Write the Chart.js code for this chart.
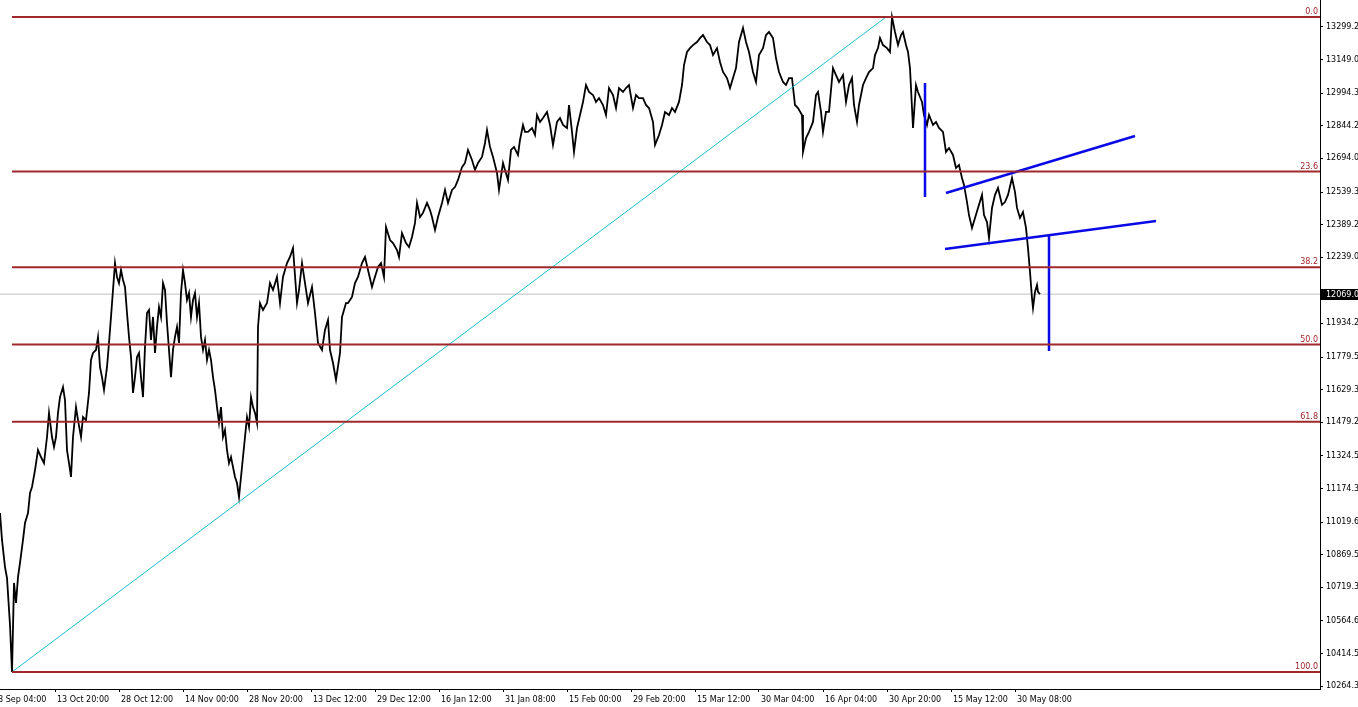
<!DOCTYPE html>
<html>
<head>
<meta charset="utf-8">
<script src="https://cdn.jsdelivr.net/npm/chart.js@4.4.1/dist/chart.umd.min.js"></script>
<style>
  html, body { margin: 0; padding: 0; background: #fff; }
  #wrap { width: 1358px; height: 707px; }
</style>
</head>
<body>
<div id="wrap"><canvas id="chart"></canvas></div>
<script>
// H4 closes (bar index -> price)
const barIdx = [
  0, 2, 5, 7, 10, 12, 14, 16, 18, 20,
  23, 25, 28, 30, 32, 35, 38, 41, 44, 47,
  49, 52, 54, 56, 58, 60, 63, 65, 67, 69,
  71, 73, 76, 78, 81, 83, 86, 89, 91, 93,
  96, 98, 100, 102, 104, 107, 109, 111, 113, 115,
  117, 119, 121, 123, 125, 127, 129, 131, 133, 135,
  137, 139, 141, 143, 145, 147, 149, 151, 153, 155,
  157, 159, 161, 163, 165, 167, 169, 171, 173, 175,
  177, 179, 181, 183, 185, 187, 189, 191, 193, 195,
  197, 199, 201, 203, 205, 207, 209, 211, 213, 215,
  217, 219, 221, 223, 225, 227, 229, 231, 233, 235,
  237, 239, 241, 243, 245, 247, 249, 251, 253, 255,
  257, 258, 260, 263, 267, 270, 273, 277, 280, 283,
  287, 290, 293, 297, 299, 302, 305, 308, 312, 315,
  318, 322, 325, 328, 330, 333, 336, 340, 342, 346,
  348, 352, 355, 358, 362, 365, 368, 372, 374, 378,
  381, 384, 386, 390, 393, 397, 399, 402, 406, 409,
  412, 415, 417, 420, 423, 427, 430, 432, 435, 438,
  442, 445, 448, 452, 455, 458, 462, 465, 468, 472,
  475, 478, 482, 485, 487, 490, 493, 497, 499, 503,
  505, 508, 511, 514, 518, 520, 523, 525, 528, 532,
  535, 537, 540, 543, 547, 550, 553, 557, 560, 563,
  567, 569, 572, 574, 577, 580, 583, 586, 589, 593,
  596, 599, 603, 606, 609, 613, 616, 619, 623, 626,
  629, 633, 636, 639, 643, 646, 649, 653, 655, 659,
  662, 665, 669, 672, 675, 679, 682, 684, 687, 690,
  693, 697, 700, 703, 707, 710, 713, 717, 720, 723,
  727, 730, 733, 736, 739, 743, 746, 749, 753, 756,
  759, 763, 766, 769, 773, 776, 779, 783, 786, 789,
  792, 795, 798, 802, 803, 806, 809, 813, 816, 818,
  821, 823, 826, 829, 833, 836, 839, 843, 846, 849,
  852, 854, 857, 859, 863, 866, 869, 873, 875, 878,
  880, 883, 887, 890, 892, 895, 898, 901, 903, 906,
  908, 910, 911, 913, 916, 918, 922, 924, 927, 929,
  933, 936, 939, 943, 946, 949, 953, 956, 959, 962,
  964, 967, 969, 972, 975, 978, 982, 984, 987, 989,
  992, 995, 998, 1002, 1005, 1008, 1012, 1015, 1017, 1020,
  1023, 1026, 1028, 1030, 1032, 1033, 1035, 1037, 1038, 1040
];
const closes = [
  11061, 10937, 10812, 10762, 10545, 10329, 10739, 10647, 10766, 10831,
  10937, 11015, 11061, 11153, 11181, 11259, 11351, 11319, 11291, 11411,
  11522, 11411, 11365, 11411, 11522, 11595, 11641, 11581, 11351, 11291,
  11227, 11411, 11549, 11489, 11411, 11503, 11489, 11614, 11766, 11798,
  11812, 11872, 11733, 11687, 11628, 11733, 11844, 11964, 12088, 12212,
  12148, 12120, 12180, 12134, 12102, 11982, 11872, 11780, 11614, 11687,
  11780, 11798, 11687, 11595, 11826, 11982, 11996, 11858, 11964, 11798,
  11918, 12010, 11964, 12120, 12088, 11936, 11812, 11687, 11812, 11872,
  11918, 11844, 12074, 12180, 12120, 12042, 12074, 11964, 12042, 12074,
  11964, 12028, 11872, 11812, 11858, 11766, 11812, 11766, 11687, 11628,
  11549, 11476, 11549, 11411, 11443, 11351, 11291, 11319, 11273, 11227,
  11199, 11135, 11227, 11319, 11411, 11503, 11457, 11595, 11549, 11522,
  11476, 11918, 12028, 11996, 12028, 12120, 12088, 12148, 12028, 12148,
  12212, 12240, 12281, 12028, 12088, 12212, 12120, 12028, 12102, 11982,
  11844, 11812, 11904, 11950, 11812, 11752, 11674, 11798, 11964, 12028,
  12028, 12056, 12120, 12148, 12212, 12240, 12180, 12102, 12134, 12194,
  12212, 12148, 12378, 12318, 12304, 12272, 12240, 12350, 12304, 12286,
  12332, 12397, 12489, 12424, 12443, 12489, 12456, 12424, 12364, 12424,
  12489, 12549, 12489, 12549, 12562, 12595, 12654, 12673, 12733, 12687,
  12641, 12673, 12701, 12765, 12825, 12747, 12701, 12627, 12549, 12673,
  12641, 12595, 12733, 12747, 12710, 12779, 12848, 12816, 12816, 12834,
  12802, 12894, 12862, 12880, 12908, 12848, 12756, 12862, 12880, 12848,
  12834, 12940, 12816, 12724, 12834, 12894, 12954, 13032, 13000, 12986,
  12954, 12972, 12940, 12894, 13018, 12986, 12926, 13018, 13000, 13018,
  13032, 12926, 12986, 12972, 12972, 12940, 12926, 12862, 12756, 12802,
  12848, 12908, 12894, 12926, 12908, 12954, 13032, 13124, 13184, 13202,
  13216, 13230, 13248, 13262, 13230, 13216, 13170, 13202, 13138, 13092,
  13064, 13018, 13064, 13110, 13230, 13295, 13230, 13184, 13092, 13046,
  13170, 13202, 13262, 13276, 13248, 13156, 13092, 13046, 13032, 13064,
  13064, 12940, 12926, 12894, 12724, 12788, 12816, 12862, 12986, 13000,
  12908, 12816, 12908, 12908, 13110, 13078, 13046, 13078, 12954, 13032,
  13064, 12940, 12862, 12940, 13032, 13064, 13092, 13110, 13170, 13202,
  13248, 13216, 13202, 13184, 13345, 13276, 13216, 13262, 13276, 13216,
  13184, 13110, 13018, 12834, 13032, 13000, 12954, 12894, 12848, 12894,
  12848, 12862, 12834, 12816, 12724, 12742, 12710, 12650, 12664, 12604,
  12572, 12493, 12433, 12374, 12420, 12466, 12526, 12433, 12401, 12328,
  12466, 12526, 12558, 12480, 12493, 12526, 12604, 12539, 12466, 12420,
  12447, 12374, 12281, 12171, 12051, 12005, 12079, 12111, 12079, 12069
];

// fibonacci retracement anchors (low bar -> high bar)
const fibLow = { x: 12, y: 10329 };
const fibHigh = { x: 886, y: 13345 };
const fibRatios = [0, 23.6, 38.2, 50.0, 61.8, 100];
const fibLabels = ['0.0', '23.6', '38.2', '50.0', '61.8', '100.0'];
const lastPrice = 12069.0;

// hand-drawn flag / target lines
const flagUpper = [{ x: 946, y: 12535 }, { x: 1135, y: 12797 }];
const flagLower = [{ x: 945, y: 12277 }, { x: 1156, y: 12406 }];
const poleLine = [{ x: 925, y: 13041 }, { x: 925, y: 12516 }];
const targetLine = [{ x: 1049, y: 12341 }, { x: 1049, y: 11807 }];

// axis ticks
const yTicks = [13299.2, 13149.0, 12994.3, 12844.2, 12694.0, 12539.3, 12389.2, 12239.0,
  11934.2, 11779.5, 11629.3, 11479.2, 11324.5, 11174.3, 11019.6, 10869.5,
  10719.3, 10564.6, 10414.5, 10264.3];
const xTicks = [-9, 55, 119, 183, 247, 311, 375, 439, 503, 567, 631, 695, 759, 823, 887, 951, 1015];
const xLabels = ['28 Sep 04:00', '13 Oct 20:00', '28 Oct 12:00', '14 Nov 00:00', '28 Nov 20:00',
  '13 Dec 12:00', '29 Dec 12:00', '16 Jan 12:00', '31 Jan 08:00', '15 Feb 00:00',
  '29 Feb 20:00', '15 Mar 12:00', '30 Mar 04:00', '16 Apr 04:00', '30 Apr 20:00',
  '15 May 12:00', '30 May 08:00'];

const fibColor = '#a0282d';
const font = { family: '"DejaVu Sans", sans-serif', size: 8 };

const fibLevels = fibRatios.map(r => fibHigh.y - r / 100 * (fibHigh.y - fibLow.y));

const datasets = [];
fibLevels.forEach(lv => {
  datasets.push({
    data: [{ x: fibLow.x, y: lv }, { x: 1320, y: lv }],
    borderColor: fibColor, borderWidth: 2, order: 1
  });
});
datasets.push({
  data: [{ x: fibLow.x, y: fibLow.y }, { x: fibHigh.x, y: fibHigh.y }],
  borderColor: '#1cbccc', borderWidth: 1, order: 1
});
[flagUpper, flagLower, poleLine, targetLine].forEach(seg => {
  datasets.push({ data: seg, borderColor: '#0a0ae6', borderWidth: 2.5, order: 1 });
});
datasets.push({
  data: barIdx.map((x, i) => ({ x: x, y: closes[i] })),
  borderColor: '#000', borderWidth: 1.8, order: 5
});
datasets.push({
  data: [{ x: 0, y: lastPrice }, { x: 1320, y: lastPrice }],
  borderColor: '#c0c0c0', borderWidth: 1, order: 9
});

const overlay = {
  id: 'overlay',
  afterDraw(chart) {
    const { ctx, chartArea } = chart;
    const y = chart.scales.y;
    ctx.save();
    ctx.font = '8px "DejaVu Sans"';
    ctx.fillStyle = fibColor;
    ctx.textAlign = 'right';
    ctx.textBaseline = 'alphabetic';
    fibLevels.forEach((lv, i) => {
      ctx.fillText(fibLabels[i], chartArea.right - 2, y.getPixelForValue(lv) - 3);
    });
    const py = Math.round(y.getPixelForValue(lastPrice));
    ctx.fillStyle = '#000';
    ctx.fillRect(chartArea.right + 1, py - 5, 38, 11);
    ctx.fillStyle = '#fff';
    ctx.textAlign = 'left';
    ctx.textBaseline = 'middle';
    ctx.fillText(lastPrice.toFixed(1), chartArea.right + 6, py + 0.5);
    ctx.restore();
  }
};

new Chart(document.getElementById('chart'), {
  type: 'line',
  data: { datasets: datasets },
  options: {
    responsive: true,
    maintainAspectRatio: false,
    animation: false,
    devicePixelRatio: 1,
    layout: { padding: 0 },
    elements: { point: { radius: 0 }, line: { tension: 0 } },
    plugins: { legend: { display: false }, tooltip: { enabled: false } },
    scales: {
      x: {
        type: 'linear', min: 0, max: 1320,
        grid: { drawOnChartArea: false, tickLength: 3, color: '#000' },
        border: { display: true, color: '#000' },
        ticks: {
          autoSkip: false, maxRotation: 0, minRotation: 0, align: 'start',
          labelOffset: 2, padding: 3, color: '#000', font: font,
          callback: (v, i) => xLabels[i]
        },
        afterBuildTicks: s => { s.ticks = xTicks.map(v => ({ value: v })); },
        afterFit: s => { s.height = 18; s.paddingLeft = 0; s.paddingRight = 0; }
      },
      y: {
        type: 'linear', position: 'right', min: 10250.7, max: 13423.5,
        grid: { drawOnChartArea: false, tickLength: 3, color: '#000' },
        border: { display: true, color: '#000' },
        ticks: {
          padding: 3, color: '#000', font: font,
          callback: v => v.toFixed(1)
        },
        afterBuildTicks: s => { s.ticks = yTicks.map(v => ({ value: v })); },
        afterFit: s => { s.width = 38; s.paddingTop = 0; s.paddingBottom = 0; }
      }
    }
  },
  plugins: [overlay]
});
</script>
</body>
</html>
